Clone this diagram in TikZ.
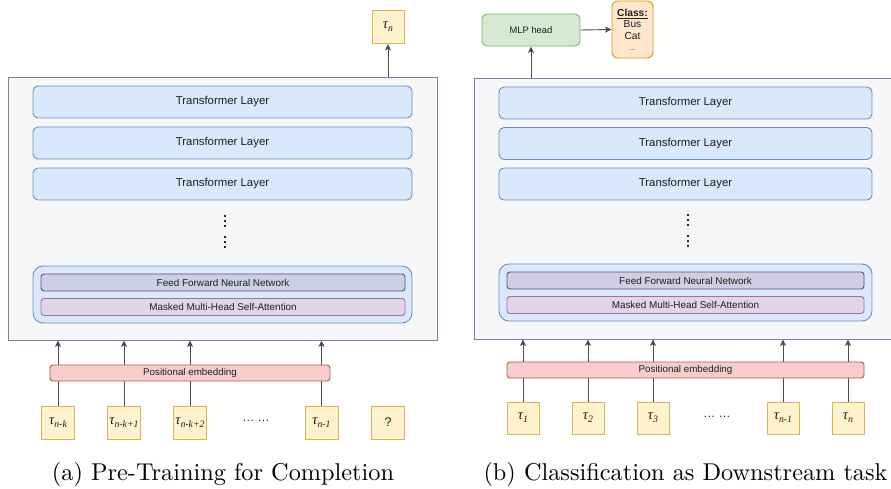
\documentclass[tikz,border=0pt]{standalone}
\usepackage{fontspec}
\usepackage{graphicx}
\usetikzlibrary{arrows.meta,backgrounds}
\newfontfamily\sansf{Liberation Sans}
\newfontfamily\serff{Liberation Serif}
\definecolor{outerF}{HTML}{F7F7FA}
\definecolor{outerB}{HTML}{9673A6}
\definecolor{tlF}{HTML}{DAE8FC}
\definecolor{tlB}{HTML}{6C8EBF}
\definecolor{ffF}{HTML}{D0CEE2}
\definecolor{ffB}{HTML}{56517E}
\definecolor{mhF}{HTML}{E1D5E7}
\definecolor{mhB}{HTML}{9673A6}
\definecolor{peF}{HTML}{F8CECC}
\definecolor{peB}{HTML}{B85450}
\definecolor{tkF}{HTML}{FFF2CC}
\definecolor{tkB}{HTML}{D6B656}
\definecolor{mlpF}{HTML}{D5E8D4}
\definecolor{mlpB}{HTML}{82B366}
\definecolor{clsF}{HTML}{FFE6CC}
\definecolor{clsB}{HTML}{D79B00}
\newcommand{\tk}[1]{{\serff\itshape\fontsize{14.5}{15}\selectfont τ\raisebox{-3.2pt}{\fontsize{9.8}{10}\selectfont #1}}}
\tikzset{
  box/.style={draw, rectangle, line width=0.9pt, inner sep=0pt, text=black!88},
  outerbox/.style={box, draw=outerB, fill=outerF},
  tlbox/.style={box, rounded corners=5pt, draw=tlB, fill=tlF, minimum height=32pt, font=\sansf\fontsize{11.4}{13}\selectfont},
  blockbox/.style={box, rounded corners=10pt, draw=tlB, fill=tlF, minimum height=57pt},
  ffbox/.style={box, rounded corners=3pt, draw=ffB, fill=ffF, minimum height=17pt, font=\sansf\fontsize{9.9}{11}\selectfont},
  mhbox/.style={box, rounded corners=3pt, draw=mhB, fill=mhF, minimum height=17pt, font=\sansf\fontsize{9.9}{11}\selectfont},
  pebox/.style={box, rounded corners=3pt, draw=peB, fill=peF, minimum height=16pt, font=\sansf\fontsize{9.8}{11}\selectfont},
  tokbox/.style={box, draw=tkB, fill=tkF, minimum width=33pt, minimum height=33pt},
  mlpbox/.style={box, rounded corners=5pt, draw=mlpB, fill=mlpF, minimum width=98pt, minimum height=32pt, font=\sansf\fontsize{9.4}{11}\selectfont},
  clsbox/.style={box, rounded corners=6pt, draw=clsB, fill=clsF, minimum width=41pt, minimum height=57pt, font=\sansf\fontsize{10.2}{11.8}\selectfont, align=center},
  etc/.style={font=\sansf\fontsize{12}{14}\selectfont, text=black!88},
  conn/.style={draw=black!70, line width=0.9pt, -{Stealth[length=6.5pt,width=6pt,inset=1.5pt]}},
  vdot/.style={fill=black!85},
  captext/.style={anchor=base, inner sep=0pt}
}
\begin{document}
\begin{tikzpicture}[x=1pt,y=-1pt]
\useasboundingbox (0,0) rectangle (891,489);
% ---------------- (a) ----------------
\node[outerbox, minimum width=429pt, minimum height=263pt] (oA) at (222.5,208.5) {};
\node[tokbox, minimum width=32pt] (tnA) at (388,27) {\tk{n}};
\node[tlbox, minimum width=379pt] (tA1) at (222.5,102) {Transformer Layer};
\node[tlbox, minimum width=379pt] (tA2) at (222.5,143) {Transformer Layer};
\node[tlbox, minimum width=379pt] (tA3) at (222.5,184) {Transformer Layer};
\foreach \yy in {216,221,226,237,242,247} \fill[vdot] (224,\yy-1.1) rectangle (226.2,\yy+1.1);
\node[blockbox, minimum width=379pt] (bA) at (222.5,294.5) {};
\node[ffbox, minimum width=364pt] (fA) at (223,282.5) {Feed Forward Neural Network};
\node[mhbox, minimum width=364pt] (mA) at (223,307) {Masked Multi-Head Self-Attention};
\node[pebox, minimum width=280pt] (pA) at (190,373) {Positional embedding};
\node[tokbox] (a1) at (58,422.5) {\tk{n-k}};
\node[tokbox] (a2) at (124,422.5) {\tk{n-k+1}};
\node[tokbox] (a3) at (190,422.5) {\tk{n-k+2}};
\node[etc] (aE) at (256,421) {… …};
\node[tokbox] (a4) at (321.5,422.5) {\tk{n-1}};
\node[tokbox] (a5) at (388,422.5) {\sansf\fontsize{12.5}{14}\selectfont ?};
\begin{scope}[on background layer]
\foreach \t in {a1,a2,a3,a4} \draw[conn] (\t.north) -- (\t.north |- oA.south);
\end{scope}
\draw[conn] (tnA.south |- oA.north) -- (tnA.south);
\node[captext] (capA) at (223,480.5) {\scalebox{2.43}{\fontsize{10}{12}\selectfont (a) Pre-Training for Completion}};
% ---------------- (b) ----------------
\node[outerbox, minimum width=425pt, minimum height=261pt] (oB) at (686.5,208.5) {};
\node[mlpbox] (mlp) at (531,30) {MLP head};
\node[clsbox] (cls) at (632.5,29.5) {\textbf{\underline{Class:}}\\[-0.5pt]Bus\\[0pt]Cat\\[-1pt]{\fontsize{7}{8}\selectfont ...}};
\draw[conn] (mlp.south |- oB.north) -- (mlp.south);
\draw[conn] (mlp.east) -- (cls.west);
\node[tlbox, minimum width=373pt] (tB1) at (685.5,103) {Transformer Layer};
\node[tlbox, minimum width=373pt] (tB2) at (685.5,143.5) {Transformer Layer};
\node[tlbox, minimum width=373pt] (tB3) at (685.5,184) {Transformer Layer};
\foreach \yy in {215,220,225,236,241,246} \fill[vdot] (687,\yy-1.1) rectangle (689.2,\yy+1.1);
\node[blockbox, minimum width=373pt] (bB) at (685.5,292.5) {};
\node[ffbox, minimum width=357pt] (fB) at (685.5,280.5) {Feed Forward Neural Network};
\node[mhbox, minimum width=357pt] (mB) at (685.5,305) {Masked Multi-Head Self-Attention};
\node[pebox, minimum width=357pt] (pB) at (685.5,370) {Positional embedding};
\node[tokbox, minimum width=32pt, minimum height=32pt] (b1) at (523,418) {\tk{1}};
\node[tokbox, minimum width=32pt, minimum height=32pt] (b2) at (588,418) {\tk{2}};
\node[tokbox, minimum width=32pt, minimum height=32pt] (b3) at (653,418) {\tk{3}};
\node[etc] (bE) at (717,416.5) {… …};
\node[tokbox, minimum width=32pt, minimum height=32pt] (b4) at (783,418) {\tk{n-1}};
\node[tokbox, minimum width=32pt, minimum height=32pt] (b5) at (848,418) {\tk{n}};
\begin{scope}[on background layer]
\foreach \t in {b1,b2,b3,b4,b5} \draw[conn] (\t.north) -- (\t.north |- oB.south);
\end{scope}
\node[captext] (capB) at (685.5,480.5) {\scalebox{2.43}{\fontsize{10}{12}\selectfont (b) Classification as Downstream task}};
\end{tikzpicture}
\end{document}
